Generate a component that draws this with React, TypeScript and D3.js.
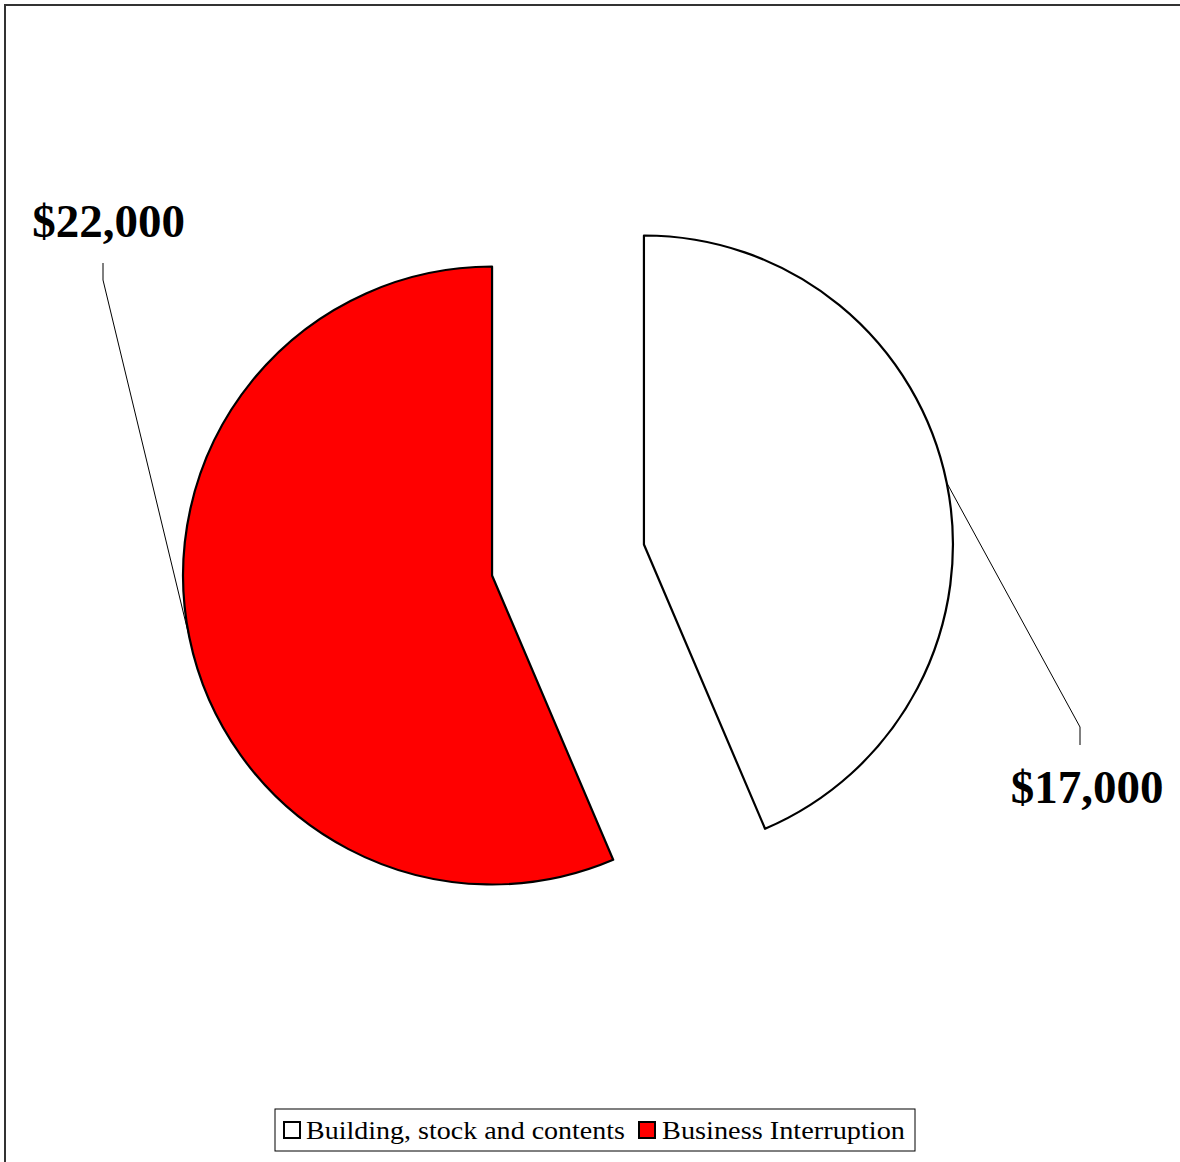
import React from "react";
import * as d3 from "d3";

const categories = ["Building, stock and contents", "Business Interruption"];
const values = [17000, 22000];
const colors = ["#FFFFFF", "#FF0000"];
const labelText = ["$17,000", "$22,000"];

const W = 1180;
const H = 1162;
const cx = 568;
const cy = 560;
const R = 309;
const explode = 77.5;

// label layout: label position and leader elbow
const labelLayout = [
  { x: 1087, y: 803, ex: 1080, ey: 727, endY: 745 },
  { x: 108.5, y: 237, ex: 103, ey: 280, endY: 263 },
];

const legendItems = [
  { sx: 284, tx: 306, len: 319 },
  { sx: 639, tx: 662, len: 243 },
];

export default function App() {
  const pie = d3
    .pie<number>()
    .sort(null)
    .startAngle(0)
    .endAngle(2 * Math.PI)
    .value((d) => d);
  const arcs = pie(values);
  const arcGen = d3.arc<d3.PieArcDatum<number>>().innerRadius(0).outerRadius(R);

  return (
    <svg
      width={W}
      height={H}
      style={{ position: "absolute", left: 0, top: 0, background: "#fff" }}
    >
      <rect x={5} y={5} width={1200} height={1200} fill="#fff" stroke="#333" strokeWidth={2} />
      {arcs.map((a, i) => {
        const mid = (a.startAngle + a.endAngle) / 2;
        const ox = Math.sin(mid) * explode;
        const oy = -Math.cos(mid) * explode;
        const px = cx + ox + Math.sin(mid) * R;
        const py = cy + oy - Math.cos(mid) * R;
        const L = labelLayout[i];
        return (
          <g key={i}>
            <path
              d={arcGen(a) || ""}
              transform={`translate(${cx + ox},${cy + oy})`}
              fill={colors[i]}
              stroke="#000"
              strokeWidth={2.2}
              strokeLinejoin="round"
            />
            <polyline
              points={`${px},${py} ${L.ex},${L.ey} ${L.ex},${L.endY}`}
              fill="none"
              stroke="#000"
              strokeWidth={1}
            />
            <text
              x={L.x}
              y={L.y}
              textAnchor="middle"
              fontFamily="'Liberation Serif', serif"
              fontWeight="bold"
              fontSize={47}
              fill="#000"
            >
              {labelText[i]}
            </text>
          </g>
        );
      })}
      <g>
        <rect x={275} y={1109} width={640} height={42} fill="#fff" stroke="#000" strokeWidth={1} />
        {categories.map((c, i) => {
          const it = legendItems[i];
          return (
            <g key={c}>
              <rect x={it.sx} y={1122} width={16} height={16} fill={colors[i]} stroke="#000" strokeWidth={2} />
              <text
                x={it.tx}
                y={1139}
                fontFamily="'Liberation Serif', serif"
                fontSize={26}
                textLength={it.len}
                lengthAdjust="spacingAndGlyphs"
                fill="#000"
              >
                {c}
              </text>
            </g>
          );
        })}
      </g>
    </svg>
  );
}
